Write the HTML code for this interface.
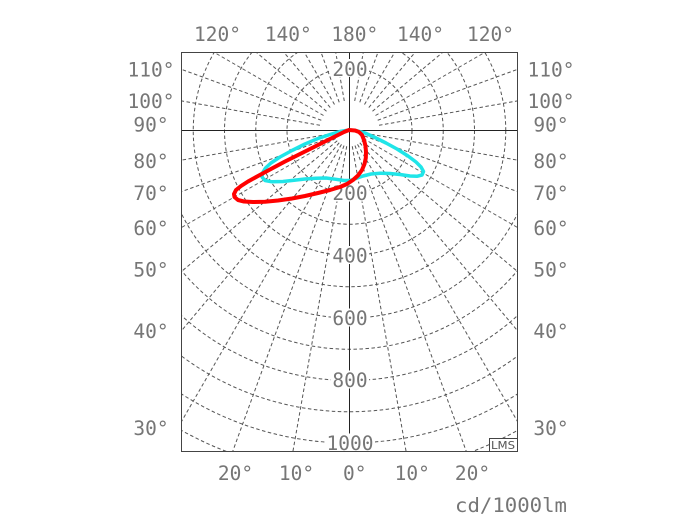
<!DOCTYPE html>
<html><head><meta charset="utf-8"><style>html,body{margin:0;padding:0;background:#fff;width:700px;height:525px;overflow:hidden}svg{display:block}</style></head>
<body>
<svg width="700" height="525" viewBox="0 0 700 525" xmlns="http://www.w3.org/2000/svg">
<defs><clipPath id="c"><rect x="181.5" y="52.5" width="336" height="399"/></clipPath></defs>
<rect width="700" height="525" fill="#fff"/>
<g clip-path="url(#c)" fill="none" stroke="#555" stroke-width="1" stroke-dasharray="3.5 2.5">
<g transform="translate(349.5,130.5)">
<circle r="62.5"/><circle r="93.75"/><circle r="125"/><circle r="156.25"/><circle r="187.5"/><circle r="218.75"/><circle r="250"/><circle r="281.25"/><circle r="312.5"/><circle r="343.75"/>
<line x1="0" y1="16" x2="0" y2="368" transform="rotate(10)"/><line x1="0" y1="16" x2="0" y2="368" transform="rotate(-10)"/>
<line x1="0" y1="16" x2="0" y2="368" transform="rotate(20)"/><line x1="0" y1="16" x2="0" y2="368" transform="rotate(-20)"/>
<line x1="0" y1="16" x2="0" y2="368" transform="rotate(30)"/><line x1="0" y1="16" x2="0" y2="368" transform="rotate(-30)"/>
<line x1="0" y1="16" x2="0" y2="368" transform="rotate(40)"/><line x1="0" y1="16" x2="0" y2="368" transform="rotate(-40)"/>
<line x1="0" y1="16" x2="0" y2="368" transform="rotate(50)"/><line x1="0" y1="16" x2="0" y2="368" transform="rotate(-50)"/>
<line x1="0" y1="16" x2="0" y2="368" transform="rotate(60)"/><line x1="0" y1="16" x2="0" y2="368" transform="rotate(-60)"/>
<line x1="0" y1="16" x2="0" y2="368" transform="rotate(70)"/><line x1="0" y1="16" x2="0" y2="368" transform="rotate(-70)"/>
<line x1="0" y1="16" x2="0" y2="368" transform="rotate(80)"/><line x1="0" y1="16" x2="0" y2="368" transform="rotate(-80)"/>
<line x1="0" y1="30" x2="0" y2="200" transform="rotate(100)"/><line x1="0" y1="30" x2="0" y2="200" transform="rotate(-100)"/>
<line x1="0" y1="30" x2="0" y2="200" transform="rotate(110)"/><line x1="0" y1="30" x2="0" y2="200" transform="rotate(-110)"/>
<line x1="0" y1="30" x2="0" y2="200" transform="rotate(120)"/><line x1="0" y1="30" x2="0" y2="200" transform="rotate(-120)"/>
<line x1="0" y1="30" x2="0" y2="200" transform="rotate(130)"/><line x1="0" y1="30" x2="0" y2="200" transform="rotate(-130)"/>
<line x1="0" y1="30" x2="0" y2="200" transform="rotate(140)"/><line x1="0" y1="30" x2="0" y2="200" transform="rotate(-140)"/>
<line x1="0" y1="30" x2="0" y2="200" transform="rotate(150)"/><line x1="0" y1="30" x2="0" y2="200" transform="rotate(-150)"/>
<line x1="0" y1="30" x2="0" y2="200" transform="rotate(160)"/><line x1="0" y1="30" x2="0" y2="200" transform="rotate(-160)"/>
<line x1="0" y1="30" x2="0" y2="200" transform="rotate(170)"/><line x1="0" y1="30" x2="0" y2="200" transform="rotate(-170)"/>
</g>
</g>
<line x1="181.5" y1="130.5" x2="517.5" y2="130.5" stroke="#222" stroke-width="1"/>
<line x1="349.5" y1="52.5" x2="349.5" y2="451.5" stroke="#222" stroke-width="1"/>
<rect x="181.5" y="52.5" width="336" height="399" fill="none" stroke="#444" stroke-width="1"/>
<g fill="#fff">
<rect x="331" y="59" width="38" height="18"/>
<rect x="331" y="183.5" width="38" height="18"/>
<rect x="331" y="246" width="38" height="18"/>
<rect x="331" y="308.5" width="38" height="18"/>
<rect x="331" y="370.5" width="38" height="18"/>
<rect x="325" y="433.5" width="50" height="17.5"/>
</g>
<g font-family="'DejaVu Sans Mono', 'Liberation Mono', monospace" font-size="19.5" fill="#767676">
<g text-anchor="middle">
<text x="350" y="76">200</text>
<text x="350" y="200">200</text>
<text x="350" y="262.5">400</text>
<text x="350" y="325">600</text>
<text x="350" y="387">800</text>
<text x="350" y="450">1000</text>
<text x="217.5" y="41">120°</text>
<text x="288.3" y="41">140°</text>
<text x="354.8" y="41">180°</text>
<text x="420.5" y="41">140°</text>
<text x="490.5" y="41">120°</text>
<text x="151" y="76.7">110°</text>
<text x="151" y="108">100°</text>
<text x="151" y="131.7">90°</text>
<text x="151" y="168">80°</text>
<text x="151" y="200">70°</text>
<text x="151" y="235">60°</text>
<text x="151" y="276.7">50°</text>
<text x="151" y="338">40°</text>
<text x="151" y="435">30°</text>
<text x="551" y="76.7">110°</text>
<text x="551" y="108">100°</text>
<text x="551" y="131.7">90°</text>
<text x="551" y="168">80°</text>
<text x="551" y="200">70°</text>
<text x="551" y="235">60°</text>
<text x="551" y="276.7">50°</text>
<text x="551" y="338">40°</text>
<text x="551" y="435">30°</text>
<text x="235.5" y="480">20°</text>
<text x="296.5" y="480">10°</text>
<text x="354.7" y="480">0°</text>
<text x="412.3" y="480">10°</text>
<text x="472.5" y="480">20°</text>
</g>
<text x="455" y="512" textLength="112" lengthAdjust="spacingAndGlyphs">cd/1000lm</text>
</g>
<rect x="489.5" y="438.5" width="28" height="13" fill="#fff" stroke="#444" stroke-width="1"/>
<text x="491" y="449" font-family="'DejaVu Sans', 'Liberation Sans', sans-serif" font-size="11" fill="#555" textLength="24" lengthAdjust="spacingAndGlyphs">LMS</text>
<polyline fill="none" stroke="#1fe5e8" stroke-width="3.5" stroke-linejoin="round" stroke-linecap="round" points="349,130 356,130.5 365,133 375,137.5 386,143 397,149 408,156 416,162 421,167 423.5,171.5 422,175 417,176.3 410,176 400,174.5 390,173.5 380,173.2 371,174 363,176 356,178.5 350,180.5 344,180.5 336,179.3 326,178 316,178.3 305,179 294,180.3 283,181.5 272,181.8 265,180.5 262,177 262.5,173 265.5,168 271,163 280,157 292,150.5 305,144 318,138.5 330,134.5 340,131.5 349,130"/>
<polyline fill="none" stroke="#f00" stroke-width="4" stroke-linejoin="round" stroke-linecap="round" points="349,130 355,130.5 359,132 362,135 364,140 365.5,146 366,152 365.8,158 364.5,164 362,170 358,175.5 353,180 347,184 340,187 330,190 318,193 305,196 292,198.5 278,200.5 265,201.7 253,202 244,201.5 238,200 234.5,197 234,194 236,190 241,186 248,181.5 258,176 270,169.5 285,161.5 300,154 315,146.5 328,140 338,135 344,132 349,130"/>
</svg>
</body></html>
